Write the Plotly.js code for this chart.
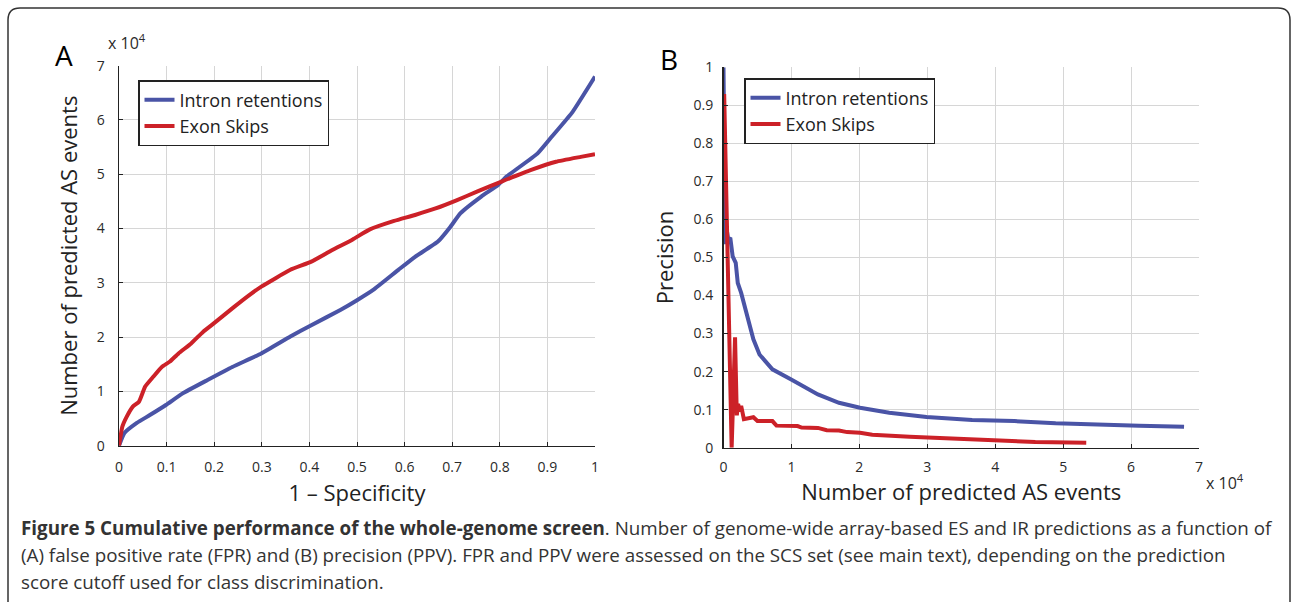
<!DOCTYPE html>
<html>
<head>
<meta charset="utf-8">
<script src="https://cdn.plot.ly/plotly-3.0.1.min.js"></script>
<style>
  html, body { margin: 0; padding: 0; background: #fff; }
  #chart { width: 1292px; height: 602px; }
</style>
</head>
<body>
<div id="chart"></div>
<script>
// ---------- Data ----------
// Panel A: 1 - Specificity (FPR) vs number of predicted AS events (x 10^4)
const fprIntron = [0, 0.011, 0.0375, 0.064, 0.0985, 0.133, 0.186, 0.238, 0.299, 0.36, 0.404, 0.465, 0.5, 0.534, 0.587, 0.622, 0.67, 0.696, 0.717, 0.761, 0.796, 0.813, 0.879, 0.909, 0.953, 1.0];
const eventsIntron = [0, 0.23, 0.42, 0.56, 0.75, 0.96, 1.21, 1.45, 1.70, 2.01, 2.22, 2.50, 2.68, 2.87, 3.24, 3.48, 3.76, 4.03, 4.28, 4.59, 4.80, 4.95, 5.38, 5.69, 6.15, 6.80];
const fprExon = [0, 0.007, 0.016, 0.029, 0.042, 0.055, 0.072, 0.09, 0.107, 0.125, 0.151, 0.177, 0.203, 0.238, 0.273, 0.299, 0.36, 0.404, 0.447, 0.491, 0.526, 0.578, 0.622, 0.665, 0.709, 0.752, 0.805, 0.866, 0.918, 0.97, 1.0];
const eventsExon = [0, 0.35, 0.53, 0.72, 0.81, 1.09, 1.27, 1.45, 1.55, 1.70, 1.88, 2.10, 2.28, 2.53, 2.77, 2.93, 3.24, 3.39, 3.60, 3.80, 3.98, 4.14, 4.25, 4.37, 4.52, 4.68, 4.87, 5.08, 5.23, 5.32, 5.37];

// Panel B: number of predicted AS events (x 10^4) vs precision
const nIntron = [0, 0.012, 0.025, 0.04, 0.07, 0.10, 0.135, 0.18, 0.21, 0.26, 0.32, 0.38, 0.44, 0.53, 0.72, 0.99, 1.21, 1.39, 1.70, 2.01, 2.44, 2.99, 3.66, 4.28, 4.89, 5.51, 6.12, 6.78];
const precIntron = [1.0, 0.565, 0.535, 0.582, 0.547, 0.552, 0.503, 0.486, 0.433, 0.407, 0.363, 0.328, 0.285, 0.245, 0.206, 0.180, 0.158, 0.140, 0.118, 0.105, 0.092, 0.081, 0.073, 0.070, 0.064, 0.060, 0.058, 0.055];
const nExon = [0.01, 0.06, 0.12, 0.17, 0.196, 0.215, 0.24, 0.26, 0.30, 0.44, 0.50, 0.72, 0.78, 1.09, 1.15, 1.39, 1.52, 1.70, 1.82, 2.01, 2.19, 2.74, 3.54, 4.09, 4.59, 5.34];
const precExon = [0.93, 0.55, 0.0, 0.29, 0.085, 0.115, 0.095, 0.11, 0.075, 0.08, 0.07, 0.07, 0.058, 0.057, 0.053, 0.052, 0.046, 0.045, 0.041, 0.039, 0.034, 0.029, 0.022, 0.018, 0.015, 0.013];

const seriesNames = ["Intron retentions", "Exon Skips"];
const xTitleA = "1 \u2013 Specificity";
const yTitleA = "Number of predicted AS events";
const xTitleB = "Number of predicted AS events";
const yTitleB = "Precision";
const captionBold = "Figure 5 Cumulative performance of the whole-genome screen";
const captionLines = [
  ". Number of genome-wide array-based ES and IR predictions as a function of",
  "(A) false positive rate (FPR) and (B) precision (PPV). FPR and PPV were assessed on the SCS set (see main text), depending on the prediction",
  "score cutoff used for class discrimination."
];

// ---------- Styling ----------
const W = 1292, H = 602;
const px = v => v / W;
const py = v => 1 - v / H;
const BLUE = "#4a54a6";
const RED = "#cc2128";
const FONT = "Open Sans, Noto Sans, sans-serif";
const LW = 4;
const TITLE_SIZE = 22;

const traces = [
  { x: fprIntron, y: eventsIntron, name: seriesNames[0], mode: "lines", line: { color: BLUE, width: LW, shape: "spline", smoothing: 0.4 }, xaxis: "x", yaxis: "y", legend: "legend" },
  { x: fprExon, y: eventsExon, name: seriesNames[1], mode: "lines", line: { color: RED, width: LW, shape: "spline", smoothing: 0.4 }, xaxis: "x", yaxis: "y", legend: "legend" },
  { x: nIntron, y: precIntron, name: seriesNames[0], mode: "lines", line: { color: BLUE, width: LW }, xaxis: "x2", yaxis: "y2", legend: "legend2" },
  { x: nExon, y: precExon, name: seriesNames[1], mode: "lines", line: { color: RED, width: LW }, xaxis: "x2", yaxis: "y2", legend: "legend2" }
];

const axisCommon = {
  showline: true, linecolor: "#222", linewidth: 1.5,
  ticks: "inside", ticklen: 4, tickcolor: "#222", tickwidth: 1,
  showgrid: true, gridcolor: "#d6d6d6", gridwidth: 1,
  zeroline: false, fixedrange: true,
  tickfont: { family: FONT, size: 14, color: "#2a2a2a" }
};

const legendCommon = {
  xanchor: "left", yanchor: "top",
  bgcolor: "#fff", bordercolor: "#222", borderwidth: 1.5,
  font: { family: FONT, size: 18, color: "#222" },
  tracegroupgap: 0, itemclick: false
};

// Rounded border frame (decoration)
const bx0 = px(8), bx1 = px(1290), byT = py(8), byB = -0.05;
const rx = 12 / W, ry = 12 / H;
const framePath = `M ${bx0},${byB} L ${bx0},${byT - ry} Q ${bx0},${byT} ${bx0 + rx},${byT} L ${bx1 - rx},${byT} Q ${bx1},${byT} ${bx1},${byT - ry} L ${bx1},${byB}`;

const layout = {
  width: W, height: H,
  margin: { l: 0, r: 0, t: 0, b: 0 },
  paper_bgcolor: "#fff", plot_bgcolor: "#fff",
  font: { family: FONT, color: "#222" },
  showlegend: true,
  xaxis: Object.assign({}, axisCommon, {
    domain: [px(119), px(595)], range: [0, 1], tick0: 0, dtick: 0.1, anchor: "y",
    ticklabelstandoff: 8,
    title: { text: xTitleA, font: { family: FONT, size: TITLE_SIZE, color: "#222" }, standoff: 10 }
  }),
  yaxis: Object.assign({}, axisCommon, {
    domain: [py(445.7), py(65.7)], range: [0, 7], tick0: 0, dtick: 1, anchor: "x",
    ticklabelstandoff: 10,
    title: { text: yTitleA, font: { family: FONT, size: TITLE_SIZE, color: "#222" }, standoff: 13 }
  }),
  xaxis2: Object.assign({}, axisCommon, {
    domain: [px(723.5), px(1199)], range: [0, 7], tick0: 0, dtick: 1, anchor: "y2",
    ticklabelstandoff: 6,
    title: { text: xTitleB, font: { family: FONT, size: TITLE_SIZE, color: "#222" }, standoff: 4 }
  }),
  yaxis2: Object.assign({}, axisCommon, {
    domain: [py(447.7), py(67.3)], range: [0, 1], tick0: 0, dtick: 0.1, anchor: "x2",
    ticklabelstandoff: 6,
    title: { text: yTitleB, font: { family: FONT, size: TITLE_SIZE, color: "#222" }, standoff: 14 }
  }),
  legend: Object.assign({}, legendCommon, { x: px(138), y: py(80) }),
  legend2: Object.assign({}, legendCommon, { x: px(744), y: py(78) }),
  annotations: [
    { text: "A", x: px(64), y: py(55), xref: "paper", yref: "paper", showarrow: false, xanchor: "center", yanchor: "middle", font: { family: FONT, size: 28, color: "#000" } },
    { text: "B", x: px(669), y: py(59), xref: "paper", yref: "paper", showarrow: false, xanchor: "center", yanchor: "middle", font: { family: FONT, size: 28, color: "#000" } },
    { text: "x 10<sup>4</sup>", x: px(106), y: py(42), xref: "paper", yref: "paper", showarrow: false, xanchor: "left", yanchor: "middle", font: { family: FONT, size: 16, color: "#2a2a2a" } },
    { text: "x 10<sup>4</sup>", x: px(1204), y: py(482), xref: "paper", yref: "paper", showarrow: false, xanchor: "left", yanchor: "middle", font: { family: FONT, size: 16, color: "#2a2a2a" } },
    { text: "<b>" + captionBold + "</b>" + captionLines[0], x: px(19), y: py(528), xref: "paper", yref: "paper", showarrow: false, xanchor: "left", yanchor: "middle", align: "left", font: { family: FONT, size: 18.8, color: "#333" } },
    { text: captionLines[1], x: px(19), y: py(555), xref: "paper", yref: "paper", showarrow: false, xanchor: "left", yanchor: "middle", align: "left", font: { family: FONT, size: 18.8, color: "#333" } },
    { text: captionLines[2], x: px(19), y: py(582), xref: "paper", yref: "paper", showarrow: false, xanchor: "left", yanchor: "middle", align: "left", font: { family: FONT, size: 18.8, color: "#333" } }
  ],
  shapes: [
    { type: "path", xref: "paper", yref: "paper", path: framePath, line: { color: "#333", width: 1.5 }, layer: "below" }
  ]
};

Plotly.newPlot("chart", traces, layout, { displayModeBar: false, staticPlot: true });
</script>
</body>
</html>
